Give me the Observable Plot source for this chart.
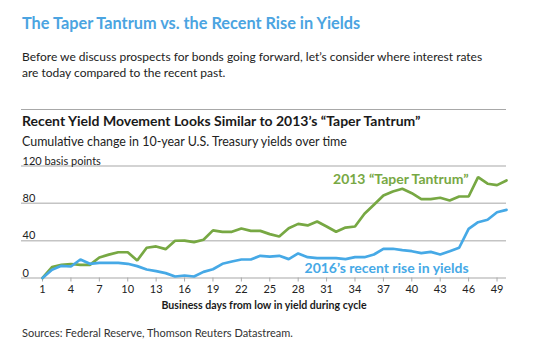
<!DOCTYPE html>
<html>
<head>
<meta charset="utf-8">
<script src="https://cdn.jsdelivr.net/npm/d3@7"></script>
<script src="https://cdn.jsdelivr.net/npm/@observablehq/plot@0.6"></script>
<style>
  body { margin: 0; background: #fff; font-family: Lato, "Open Sans", sans-serif; }
  #wrap { position: relative; width: 537px; height: 354px; overflow: hidden; }
  .abs { position: absolute; left: 22px; white-space: nowrap; }
  #title { top: 13px; font-size: 16.3px; line-height: 20px; font-weight: 700; color: #4ba4e1; }
  #para { top: 49px; font-size: 12px; line-height: 16px; color: #222; }
  #rule { position: absolute; left: 21px; top: 108.5px; width: 485px; height: 1.5px; background: #a8a8a8; }
  #ctitle { top: 113px; font-size: 14px; line-height: 16px; font-weight: 700; color: #1a1a1a; }
  #csub { top: 134px; font-size: 12.45px; line-height: 16px; color: #222; }
  #chart { position: absolute; left: 0; top: 150px; }
  #src { top: 326px; font-size: 11px; line-height: 14px; color: #333; }
</style>
</head>
<body>
<div id="wrap">
  <div id="title" class="abs">The Taper Tantrum vs. the Recent Rise in Yields</div>
  <div id="para" class="abs">Before we discuss prospects for bonds going forward, let’s consider where interest rates<br>are today compared to the recent past.</div>
  <div id="rule"></div>
  <div id="ctitle" class="abs">Recent Yield Movement Looks Similar to 2013’s “Taper Tantrum”</div>
  <div id="csub" class="abs">Cumulative change in 10-year U.S. Treasury yields over time</div>
  <div id="chart"></div>
  <div id="src" class="abs">Sources: Federal Reserve, Thomson Reuters Datastream.</div>
</div>
<script>
// Business days 1..50
const days = d3.range(1, 51);
// 2013 "Taper Tantrum" cumulative change (bp)
const taper2013 = [0, 11.6, 14, 15, 14, 14, 22, 25, 27.6, 27.6,
  18.8, 32.4, 33.8, 30.9, 39.9, 40, 38.4, 41, 51, 49.5,
  49.5, 53, 50.5, 50.5, 47, 44.5, 53.4, 58, 56.3, 60.6,
  55.2, 49.5, 54, 55.2, 68.8, 78.5, 88.4, 92.7, 95.6, 90.9,
  84.5, 84.5, 86, 83, 87.3, 87.3, 108, 101, 99.5, 104.5];
// 2016 recent rise (bp)
const rise2016 = [0, 8.8, 13, 12.3, 19.8, 15.2, 16.3, 16.3, 16.3, 15.2,
  12.7, 9.1, 7.3, 5.2, 1.6, 2.7, 1.6, 6.6, 9.4, 15.2,
  17.7, 19.8, 19.8, 23.8, 23, 23.8, 20.2, 26.3, 22.3, 21.2,
  21.2, 21.2, 20.2, 22.3, 22.3, 25.2, 31.3, 31.3, 29.8, 28.7,
  26.6, 28, 25.2, 28.7, 32.4, 52.7, 59.8, 62.4, 70.5, 73];
const xTicks = [1, 4, 7, 10, 13, 16, 19, 22, 25, 28, 31, 34, 37, 40, 43, 46, 49];
const yTicks = [0, 40, 80, 120];
const yTickLabels = ["0", "40", "80", "120 basis points"];
const seriesNames = ["2013 “Taper Tantrum”", "2016’s recent rise in yields"];
const labelDay = [46, 46];
const labelValue = [105.6, 10.2];

const green = "#77a843";
const blue = "#46a9e6";

const rows = [];
days.forEach((d, i) => {
  rows.push({day: d, value: taper2013[i], series: seriesNames[0]});
  rows.push({day: d, value: rise2016[i], series: seriesNames[1]});
});
const labels = seriesNames.map((s, i) => ({series: s, day: labelDay[i], value: labelValue[i]}));

const chart = Plot.plot({
  width: 537,
  height: 170,
  marginLeft: 21,
  marginRight: 31,
  marginTop: 15.5,
  marginBottom: 42.5,
  style: {fontFamily: "Lato, sans-serif", fontSize: "11px", color: "#222", background: "transparent"},
  x: {domain: [-1.22, 50], axis: null},
  y: {domain: [0, 120], axis: null},
  color: {domain: seriesNames, range: [green, blue]},
  marks: [
    Plot.ruleY(yTicks, {stroke: "#c4c4c4", strokeWidth: 1.5}),
    Plot.axisX(xTicks, {tickSize: 4, tickPadding: 3, stroke: "#aaa", fill: "#222", fontSize: 11, label: null}),
    Plot.text(yTicks, {y: d => d, text: (d, i) => yTickLabels[i], frameAnchor: "left", textAnchor: "start", lineAnchor: "bottom", dx: 1, dy: -1.5, fill: "#222", fontSize: 11}),
    Plot.line(rows, {x: "day", y: "value", z: "series", stroke: "series", strokeWidth: 2.7, strokeLinejoin: "miter", curve: "linear"}),
    Plot.text(labels, {x: "day", y: "value", text: "series", fill: "series", textAnchor: "end", fontSize: 14, fontWeight: 700}),
    Plot.text(["Business days from low in yield during cycle"], {frameAnchor: "bottom", dy: 28, lineAnchor: "middle", fontWeight: 700, fontSize: 10.6, fill: "#1a1a1a"})
  ]
});
document.getElementById("chart").appendChild(chart);
</script>
</body>
</html>
